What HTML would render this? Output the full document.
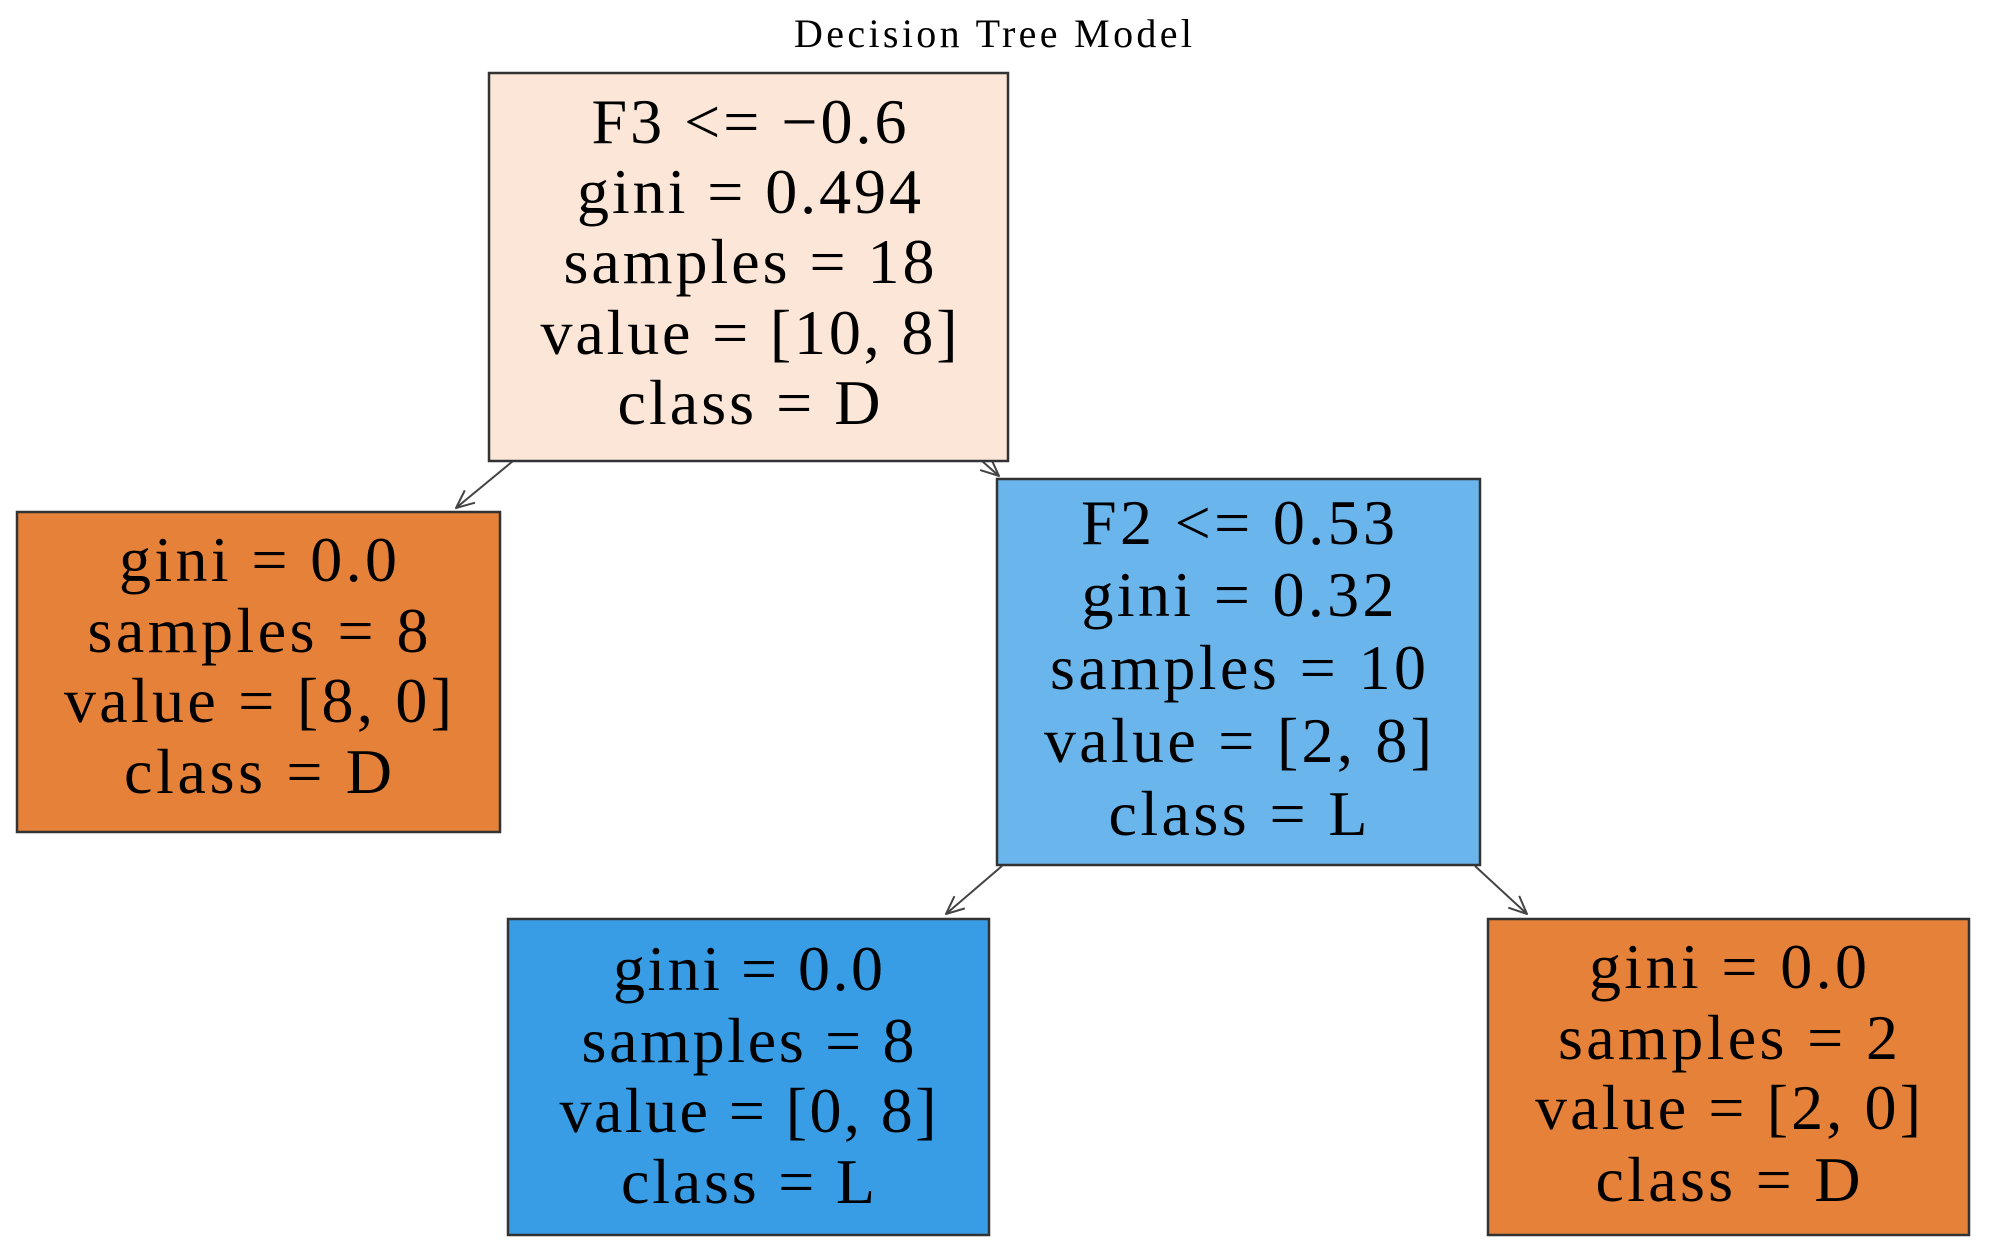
<!DOCTYPE html>
<html><head><meta charset="utf-8"><style>
html,body{margin:0;padding:0;background:#fff;}
svg{display:block;}
text{font-family:"Liberation Serif",serif;fill:#000;}
.n{font-size:64px;text-anchor:middle;}
</style></head><body>
<svg width="2000" height="1256" viewBox="0 0 2000 1256" xmlns="http://www.w3.org/2000/svg">
<defs>
<marker id="a" viewBox="0 0 20 20" refX="19" refY="10" markerWidth="20" markerHeight="20" markerUnits="userSpaceOnUse" orient="auto">
<path d="M1,2 L19,10 L1,18" fill="none" stroke="#444" stroke-width="2"/>
</marker>
</defs>
<text x="993" y="47" font-size="40" text-anchor="middle" textLength="398">Decision Tree Model</text>

<g stroke="#444" stroke-width="2" fill="none">
<line x1="513" y1="461" x2="456" y2="508" marker-end="url(#a)"/>
<line x1="982" y1="461" x2="999" y2="476" marker-end="url(#a)"/>
<line x1="1002" y1="866" x2="946" y2="914" marker-end="url(#a)"/>
<line x1="1475" y1="866" x2="1527" y2="914" marker-end="url(#a)"/>
</g>

<rect x="489" y="73" width="519" height="388" fill="#fbe6d8" stroke="#333" stroke-width="2.5"/>
<text class="n" x="749" y="143" textLength="315">F3 &lt;= −0.6</text>
<text class="n" x="749" y="213" textLength="344">gini = 0.494</text>
<text class="n" x="749" y="283" textLength="371">samples = 18</text>
<text class="n" x="749" y="354" textLength="417">value = [10, 8]</text>
<text class="n" x="749" y="424" textLength="263">class = D</text>

<rect x="17" y="512" width="483" height="320" fill="#e58139" stroke="#333" stroke-width="2.5"/>
<text class="n" x="258" y="581" textLength="278">gini = 0.0</text>
<text class="n" x="258" y="652" textLength="341">samples = 8</text>
<text class="n" x="258" y="722" textLength="388">value = [8, 0]</text>
<text class="n" x="258" y="793" textLength="268">class = D</text>

<rect x="997" y="479" width="483" height="386" fill="#6ab6ec" stroke="#333" stroke-width="2.5"/>
<text class="n" x="1238" y="544" textLength="314">F2 &lt;= 0.53</text>
<text class="n" x="1238" y="616" textLength="313">gini = 0.32</text>
<text class="n" x="1238" y="689" textLength="376">samples = 10</text>
<text class="n" x="1238" y="762" textLength="388">value = [2, 8]</text>
<text class="n" x="1238" y="835" textLength="259">class = L</text>

<rect x="508" y="919" width="481" height="316" fill="#399de5" stroke="#333" stroke-width="2.5"/>
<text class="n" x="748" y="990" textLength="270">gini = 0.0</text>
<text class="n" x="748" y="1062" textLength="333">samples = 8</text>
<text class="n" x="748" y="1132" textLength="377">value = [0, 8]</text>
<text class="n" x="748" y="1203" textLength="254">class = L</text>

<rect x="1488" y="919" width="481" height="316" fill="#e58139" stroke="#333" stroke-width="2.5"/>
<text class="n" x="1728" y="988" textLength="278">gini = 0.0</text>
<text class="n" x="1728" y="1059" textLength="340">samples = 2</text>
<text class="n" x="1728" y="1129" textLength="386">value = [2, 0]</text>
<text class="n" x="1728" y="1201" textLength="265">class = D</text>
</svg>
</body></html>
